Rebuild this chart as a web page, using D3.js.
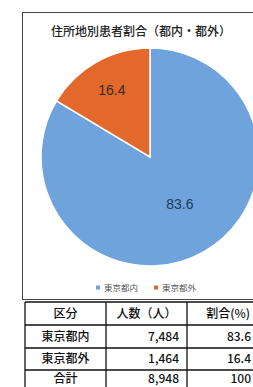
<!DOCTYPE html>
<html>
<head>
<meta charset="utf-8">
<script src="https://cdn.jsdelivr.net/npm/d3@7"></script>
<style>
  html, body { margin: 0; padding: 0; background: #fff; }
  svg { display: block; font-family: "Noto Sans CJK JP", "Noto Sans", sans-serif; }
</style>
</head>
<body>
<div id="chart"></div>
<script>
const title = "住所地別患者割合（都内・都外）";
const categories = ["東京都内", "東京都外"];
const shares = [83.6, 16.4];
const counts = [7484, 1464];
const tableHeader = ["区分", "人数（人）", "割合(%)"];
const totalLabel = "合計";
const totalCount = 8948;
const totalShare = 100;

const colors = ["#6ea3dc", "#e2692b"];
const labelColors = ["#1f3a5a", "#3a2a20"];
const labelRadius = [0.5, 0.71];

const width = 253, height = 387;
const svg = d3.select("#chart").append("svg")
    .attr("width", width)
    .attr("height", height);

// chart frame
svg.append("rect")
    .attr("x", 22.5).attr("y", 12.5)
    .attr("width", 260).attr("height", 287)
    .attr("fill", "#fff")
    .attr("stroke", "#444")
    .attr("stroke-width", 1);

svg.append("text")
    .attr("x", 141).attr("y", 36)
    .attr("text-anchor", "middle")
    .attr("font-size", 12)
    .attr("font-weight", 500)
    .attr("fill", "#222")
    .text(title);

// pie
const r = 109;
const pieG = svg.append("g").attr("transform", "translate(150,157)");
const pie = d3.pie().sort(null).value(d => d);
const arcs = pie(shares);
const arc = d3.arc().innerRadius(0).outerRadius(r);

pieG.selectAll("path")
    .data(arcs)
    .join("path")
    .attr("d", arc)
    .attr("fill", (d, i) => colors[i])
    .attr("stroke", "#fff")
    .attr("stroke-width", 1.5);

pieG.selectAll("text.lbl")
    .data(arcs)
    .join("text")
    .attr("class", "lbl")
    .attr("transform", (d, i) => {
        const la = d3.arc().innerRadius(r * labelRadius[i]).outerRadius(r * labelRadius[i]);
        const [x, y] = la.centroid(d);
        return `translate(${x + (i === 0 ? 3 : 0)},${y})`;
    })
    .attr("text-anchor", "middle")
    .attr("dy", "0.35em")
    .attr("font-family", "Liberation Sans, sans-serif")
    .attr("font-size", 14)
    .attr("fill", (d, i) => labelColors[i])
    .text(d => d.data.toFixed(1));

// legend
const legendX = [96, 154];
const legend = svg.append("g").selectAll("g")
    .data(categories)
    .join("g")
    .attr("transform", (d, i) => `translate(${legendX[i]},288)`);
legend.append("rect")
    .attr("x", 0).attr("y", -2.5)
    .attr("width", 4).attr("height", 4)
    .attr("fill", (d, i) => colors[i]);
legend.append("text")
    .attr("x", 8).attr("dy", "0.35em")
    .attr("font-size", 8.5)
    .attr("fill", "#555")
    .text(d => d);

// table
const colX = [25, 106, 187, 268];
const rowY = [302, 325, 348, 370, 393];
const rows = [tableHeader]
    .concat(categories.map((c, i) => [c, d3.format(",")(counts[i]), shares[i].toFixed(1)]))
    .concat([[totalLabel, d3.format(",")(totalCount), String(totalShare)]]);

const tbl = svg.append("g");
rowY.forEach(y => {
    tbl.append("line")
        .attr("x1", colX[0]).attr("x2", colX[3])
        .attr("y1", y).attr("y2", y)
        .attr("stroke", "#111").attr("stroke-width", 1.3);
});
colX.forEach(x => {
    tbl.append("line")
        .attr("x1", x).attr("x2", x)
        .attr("y1", rowY[0]).attr("y2", rowY[4])
        .attr("stroke", "#111").attr("stroke-width", 1.3);
});

rows.forEach((row, ri) => {
    // last row is cut by the page edge; keep its text inside
    const yMid = ri === rows.length - 1 ? 378.5 : (rowY[ri] + rowY[ri + 1]) / 2;
    row.forEach((cell, ci) => {
        const header = ri === 0;
        const t = tbl.append("text")
            .attr("y", yMid)
            .attr("dy", "0.36em")
            .attr("font-size", 12)
            .attr("font-weight", 500)
            .attr("fill", "#111")
            .text(cell);
        if (header && ci === 2) {
            t.attr("x", 250).attr("text-anchor", "end");
        } else if (ci === 0 || header) {
            t.attr("x", (colX[ci] + colX[ci + 1]) / 2).attr("text-anchor", "middle");
        } else if (ci === 2) {
            t.attr("x", 251).attr("text-anchor", "end");
        } else {
            t.attr("x", colX[ci + 1] - 8).attr("text-anchor", "end");
        }
    });
});
</script>
</body>
</html>
